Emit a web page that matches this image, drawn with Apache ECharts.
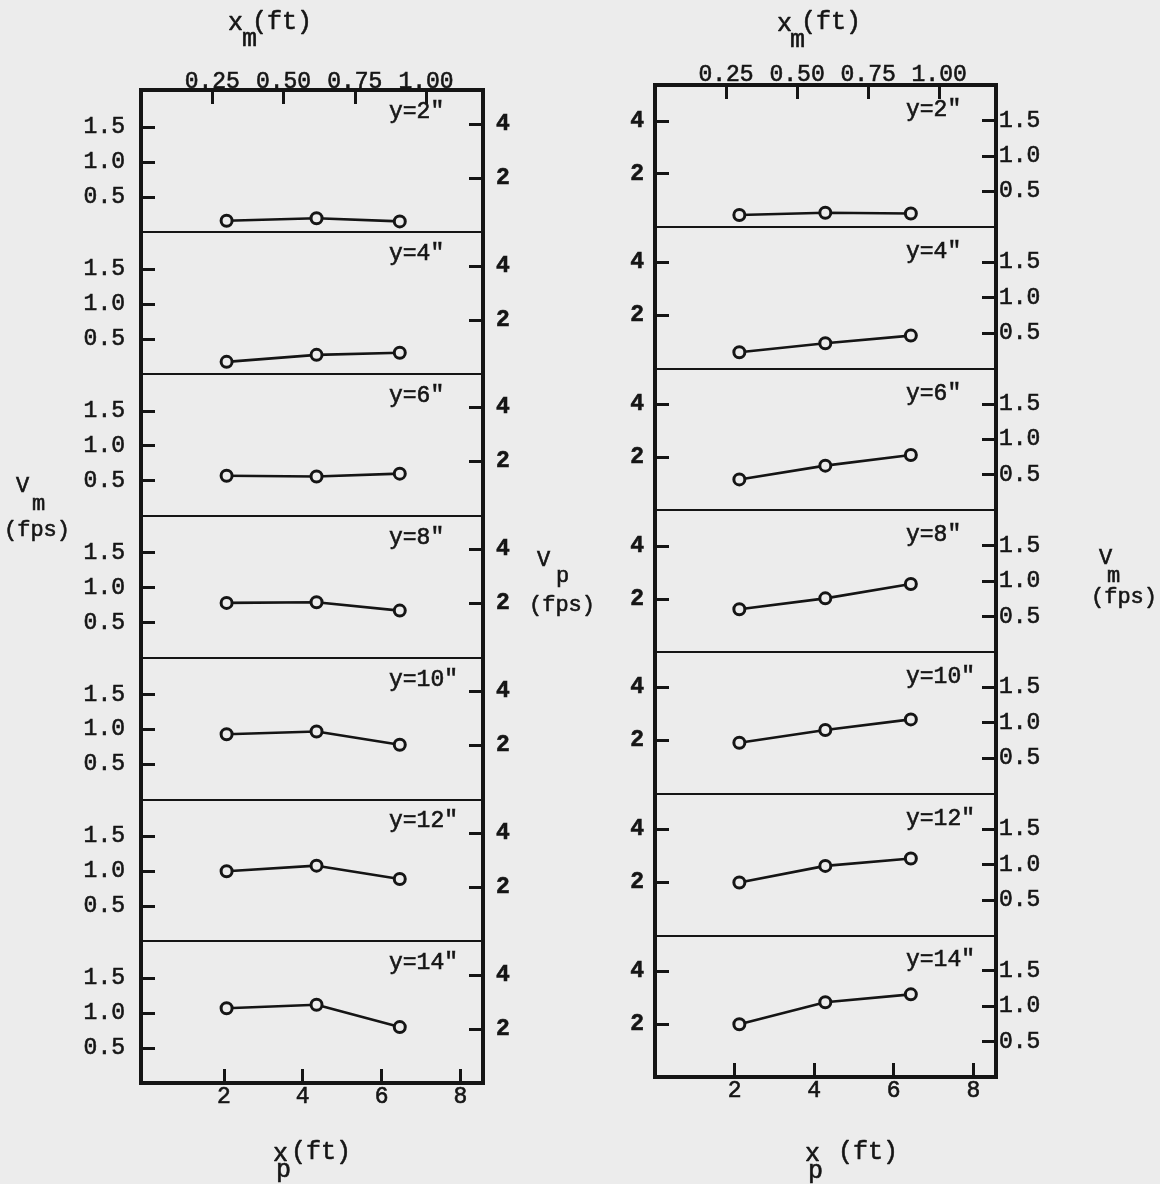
<!DOCTYPE html>
<html><head><meta charset="utf-8">
<script src="https://cdn.jsdelivr.net/npm/echarts@6/dist/echarts.min.js"></script>
<style>html,body{margin:0;padding:0;background:#ececec}#c{width:1160px;height:1184px}</style>
</head><body><div id="c"></div>
<script>
// ---------- data ----------
const depthLabels = ['y=2"', 'y=4"', 'y=6"', 'y=8"', 'y=10"', 'y=12"', 'y=14"'];
// station positions, prototype feet
const xpLeft  = [2.07, 4.35, 6.46];
const xpRight = [2.12, 4.28, 6.43];
// left column: values on Vm (fps) scale
const leftVm2  = [0.16, 0.195, 0.15];
const leftVm4  = [0.17, 0.27, 0.30];
const leftVm6  = [0.57, 0.56, 0.60];
const leftVm8  = [0.78, 0.79, 0.67];
const leftVm10 = [0.93, 0.97, 0.78];
const leftVm12 = [1.00, 1.08, 0.89];
const leftVm14 = [1.07, 1.12, 0.80];
// right column: values on Vp (fps) scale
const rightVp2  = [0.44, 0.53, 0.50];
const rightVp4  = [0.61, 0.95, 1.24];
const rightVp6  = [1.16, 1.68, 2.08];
const rightVp8  = [1.61, 2.02, 2.56];
const rightVp10 = [1.92, 2.40, 2.80];
const rightVp12 = [1.99, 2.62, 2.90];
const rightVp14 = [1.99, 2.82, 3.12];
// tick values
const vmTicks = [0.5, 1.0, 1.5];
const vpTicks = [2, 4];
const xpTicks = [2, 4, 6, 8];
const xmTicks = [0.25, 0.50, 0.75, 1.00];

// ---------- layout / style ----------
const INK = '#151515';
const BG = '#ececec';
const FF = '"Liberation Mono","DejaVu Sans Mono",monospace';
const FS = 23;
const STROKE = 0.6;
const LEFT  = {x:141, w:342, top:90, h:993/7, vmMax:2.03, vpMax:5.26, xpMin:-0.1, xpMax:8.57, xmMax:1.2,
               leftKind:'vm', leftMargin:16, rightMargin:13, topMargin:-3, labelX:389, labelDy:22};
const RIGHT = {x:655, w:341, top:85, h:992/7, vmMax:2.0, vpMax:5.35, xpMin:0, xpMax:8.57, xmMax:1.2,
               leftKind:'vp', leftMargin:11, rightMargin:3, topMargin:-1, labelX:906, labelDy:25};

const grids = [], xAxes = [], yAxes = [], series = [], graphics = [];

function lbl(extra) {
  return Object.assign({color: INK, fontFamily: FF, fontSize: FS,
                        textBorderColor: INK, textBorderWidth: STROKE}, extra);
}

function build(cfg, xs, panels) {
  panels.forEach((vals, i) => {
    const g = grids.length;
    const first = i === 0, last = i === panels.length - 1;
    grids.push({left: cfg.x, width: cfg.w, top: cfg.top + i * cfg.h, height: cfg.h,
                containLabel: false, outerBoundsMode: 'none'});
    // bottom: x_p (ft)
    xAxes.push({gridIndex: g, type: 'value', position: 'bottom', min: cfg.xpMin, max: cfg.xpMax,
      axisLine: {show: true, onZero: false, lineStyle: {color: INK, width: last ? 4 : 2, cap: 'square'}},
      axisTick: {show: last, inside: true, length: 14, customValues: xpTicks, lineStyle: {color: INK, width: 3}},
      axisLabel: lbl({show: last, margin: 2, customValues: xpTicks, formatter: v => String(v)}),
      splitLine: {show: false}});
    // top: x_m (ft)
    xAxes.push({gridIndex: g, type: 'value', position: 'top', min: 0, max: cfg.xmMax, show: first,
      axisLine: {show: true, onZero: false, lineStyle: {color: INK, width: 4, cap: 'square'}},
      axisTick: {show: true, inside: true, length: 14, customValues: xmTicks, lineStyle: {color: INK, width: 3}},
      axisLabel: lbl({margin: cfg.topMargin, customValues: xmTicks, formatter: v => v.toFixed(2)}),
      splitLine: {show: false}});
    const kinds = cfg.leftKind === 'vm' ? ['vm', 'vp'] : ['vp', 'vm'];
    kinds.forEach((k, side) => {
      const isVm = k === 'vm';
      yAxes.push({gridIndex: g, type: 'value', position: side ? 'right' : 'left',
        min: 0, max: isVm ? cfg.vmMax : cfg.vpMax,
        axisLine: {show: true, onZero: false, lineStyle: {color: INK, width: 4, cap: 'square'}},
        axisTick: {show: true, inside: true, length: 14, customValues: isVm ? vmTicks : vpTicks,
                   lineStyle: {color: INK, width: 3}},
        axisLabel: lbl({margin: side ? cfg.rightMargin : cfg.leftMargin,
                        customValues: isVm ? vmTicks : vpTicks,
                        fontWeight: isVm ? 'normal' : 'bold',
                        formatter: v => isVm ? v.toFixed(1) : String(v)}),
        splitLine: {show: false}});
    });
    series.push({type: 'line', xAxisIndex: 2 * g, yAxisIndex: 2 * g,
      data: xs.map((x, k) => [x, vals[k]]),
      symbol: 'circle', symbolSize: 11, showSymbol: true,
      lineStyle: {color: INK, width: 2.6},
      itemStyle: {color: BG, borderColor: INK, borderWidth: 3},
      z: 5});
    // panel label
    graphics.push(text(depthLabels[i], cfg.labelX, cfg.top + i * cfg.h + cfg.labelDy, FS, 'normal', 'middle'));
  });
}

function text(s, x, y, fs, weight, va) {
  return {type: 'text', x: x, y: y, z: 10, silent: true,
    style: {text: s, fill: INK, stroke: INK, lineWidth: STROKE,
            font: (weight === 'bold' ? 'bold ' : '') + fs + 'px ' + FF,
            textAlign: 'left', align: 'left', textVerticalAlign: va, verticalAlign: va}};
}
// place by baseline (approx: middle = baseline - 0.3em)
function tb(s, x, baseline, fs, weight) {
  graphics.push(text(s, x, baseline - 0.3 * fs, fs, weight || 'normal', 'middle'));
}

build(LEFT, xpLeft, [leftVm2, leftVm4, leftVm6, leftVm8, leftVm10, leftVm12, leftVm14]);
build(RIGHT, xpRight, [rightVp2, rightVp4, rightVp6, rightVp8, rightVp10, rightVp12, rightVp14]);

// axis titles
const TF = 25;
// top left x_m(ft)
tb('x', 228, 31, TF); tb('m', 242, 47, TF); tb('(ft)', 252, 30, TF);
// top right
tb('x', 777, 32, TF); tb('m', 790, 48, TF); tb('(ft)', 801, 30, TF);
// bottom left x_p(ft)
tb('x', 273, 1162, TF); tb('p', 276, 1178, TF); tb('(ft)', 291, 1160, TF);
// bottom right
tb('x', 805, 1162, TF); tb('p', 808, 1179, TF); tb('(ft)', 838, 1160, TF);
// V_m (fps) left
const VF = 22;
tb('V', 16, 493, VF); tb('m', 32, 511, VF); tb('(fps)', 4, 537, VF);
// V_p (fps) center
tb('V', 537, 567, VF); tb('p', 556, 583, VF); tb('(fps)', 529, 612, VF);
// V_m (fps) right
tb('V', 1099, 565, VF); tb('m', 1107, 583, VF); tb('(fps)', 1091, 604, VF);

const chart = echarts.init(document.getElementById('c'), null, {renderer: 'canvas'});
chart.setOption({
  backgroundColor: BG,
  animation: false,
  grid: grids,
  xAxis: xAxes,
  yAxis: yAxes,
  series: series,
  graphic: graphics
});
</script>
</body></html>
